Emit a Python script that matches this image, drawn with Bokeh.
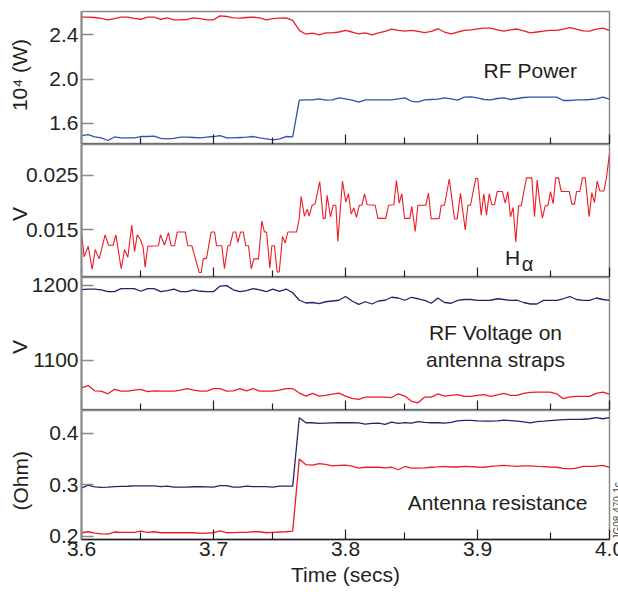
import numpy as np
from math import pi
from bokeh.plotting import figure
from bokeh.layouts import column
from bokeh.models import Label, FixedTicker, Range1d, PrintfTickFormatter, LinearAxis
from bokeh.embed import file_html
from bokeh.resources import INLINE

# ---------------- data ----------------
t_smooth = np.linspace(3.6, 4.0, 81)

power_red = [
    2.559, 2.559, 2.556, 2.548, 2.535, 2.545, 2.559, 2.559, 2.548, 2.540,
    2.559, 2.559, 2.540, 2.553, 2.535, 2.535, 2.538, 2.553, 2.545, 2.535,
    2.535, 2.570, 2.565, 2.553, 2.550, 2.556, 2.559, 2.553, 2.535, 2.545,
    2.550, 2.553, 2.530, 2.440, 2.405, 2.415, 2.400, 2.418, 2.418, 2.425,
    2.439, 2.425, 2.409, 2.418, 2.400, 2.418, 2.430, 2.450, 2.440, 2.433,
    2.439, 2.430, 2.420, 2.430, 2.454, 2.425, 2.409, 2.425, 2.439, 2.445,
    2.454, 2.460, 2.460, 2.445, 2.433, 2.445, 2.452, 2.435, 2.418, 2.425,
    2.433, 2.439, 2.439, 2.450, 2.465, 2.450, 2.436, 2.433, 2.450, 2.460,
    2.439]
power_blue = [
    1.491, 1.500, 1.478, 1.470, 1.446, 1.478, 1.470, 1.470, 1.470, 1.482,
    1.482, 1.485, 1.466, 1.461, 1.466, 1.476, 1.476, 1.473, 1.470, 1.476,
    1.482, 1.491, 1.470, 1.470, 1.473, 1.476, 1.482, 1.470, 1.461, 1.452,
    1.461, 1.482, 1.478, 1.810, 1.813, 1.813, 1.822, 1.810, 1.813, 1.831,
    1.822, 1.810, 1.792, 1.813, 1.813, 1.813, 1.813, 1.813, 1.822, 1.831,
    1.800, 1.795, 1.813, 1.816, 1.819, 1.831, 1.822, 1.810, 1.837, 1.840,
    1.831, 1.816, 1.813, 1.825, 1.831, 1.816, 1.825, 1.834, 1.837, 1.837,
    1.837, 1.837, 1.837, 1.807, 1.807, 1.813, 1.813, 1.816, 1.822, 1.837,
    1.819]

ha_t = [
    3.6000, 3.6020, 3.6051, 3.6081, 3.6104, 3.6134, 3.6179, 3.6205, 3.6240, 3.6260,
    3.6301, 3.6326, 3.6351, 3.6381, 3.6402, 3.6422, 3.6447, 3.6467, 3.6482, 3.6502,
    3.6583, 3.6598, 3.6629, 3.6659, 3.6679, 3.6705, 3.6725, 3.6786, 3.6805, 3.6836,
    3.6892, 3.6907, 3.6922, 3.6947, 3.6982, 3.7008, 3.7023, 3.7063, 3.7083, 3.7108,
    3.7124, 3.7149, 3.7169, 3.7184, 3.7205, 3.7225, 3.7245, 3.7265, 3.7286, 3.7306,
    3.7341, 3.7366, 3.7386, 3.7402, 3.7427, 3.7442, 3.7462, 3.7482, 3.7498, 3.7523,
    3.7543, 3.7563, 3.7629, 3.7649, 3.7664, 3.7689, 3.7710, 3.7725, 3.7745, 3.7770,
    3.7805, 3.7831, 3.7846, 3.7861, 3.7886, 3.7907, 3.7927, 3.7942, 3.7977, 3.8002,
    3.8023, 3.8043, 3.8063, 3.8083, 3.8104, 3.8124, 3.8144, 3.8164, 3.8225, 3.8245,
    3.8305, 3.8326, 3.8366, 3.8386, 3.8407, 3.8427, 3.8447, 3.8487, 3.8502, 3.8528,
    3.8548, 3.8608, 3.8629, 3.8649, 3.8710, 3.8725, 3.8750, 3.8786, 3.8826, 3.8846,
    3.8871, 3.8907, 3.8927, 3.8947, 3.8987, 3.9002,
    3.9028, 3.9048, 3.9068, 3.9089, 3.9109, 3.9129, 3.9149, 3.9189, 3.9210, 3.9230,
    3.9250, 3.9270, 3.9290, 3.9311, 3.9331, 3.9371, 3.9411, 3.9432, 3.9452, 3.9472,
    3.9492, 3.9513, 3.9533, 3.9553, 3.9573, 3.9593, 3.9614, 3.9634, 3.9695, 3.9715,
    3.9735, 3.9750, 3.9775, 3.9795, 3.9816, 3.9846, 3.9866, 3.9886, 3.9907, 3.9927,
    3.9957, 3.9977, 4.0000]
ha_v = [
    0.0146, 0.0101, 0.0120, 0.0078, 0.0114, 0.0097, 0.0141, 0.0122, 0.0122, 0.0141,
    0.0079, 0.0114, 0.0100, 0.0159, 0.0110, 0.0141, 0.0132, 0.0118, 0.0082, 0.0120,
    0.0121, 0.0141, 0.0122, 0.0145, 0.0121, 0.0121, 0.0146, 0.0146, 0.0121, 0.0121,
    0.0072, 0.0072, 0.0097, 0.0098, 0.0146, 0.0146, 0.0121, 0.0121, 0.0079, 0.0121,
    0.0121, 0.0146, 0.0146, 0.0127, 0.0146, 0.0146, 0.0121, 0.0121, 0.0079, 0.0097,
    0.0097, 0.0166, 0.0146, 0.0146, 0.0080, 0.0121, 0.0121, 0.0073, 0.0073, 0.0138,
    0.0126, 0.0146, 0.0146, 0.0170, 0.0211, 0.0175, 0.0188, 0.0175, 0.0194, 0.0198,
    0.0238, 0.0171, 0.0171, 0.0213, 0.0174, 0.0195, 0.0195, 0.0129, 0.0239, 0.0201,
    0.0216, 0.0179, 0.0190, 0.0173, 0.0195, 0.0195, 0.0216, 0.0196, 0.0195, 0.0171,
    0.0171, 0.0195, 0.0196, 0.0240, 0.0199, 0.0216, 0.0171, 0.0171, 0.0193, 0.0147,
    0.0195, 0.0195, 0.0217, 0.0170, 0.0171, 0.0195, 0.0195, 0.0243, 0.0170, 0.0170,
    0.0217, 0.0150, 0.0195, 0.0195, 0.0244, 0.0244,
    0.0177, 0.0216, 0.0177, 0.0216, 0.0196, 0.0196, 0.0220, 0.0220, 0.0199, 0.0220,
    0.0174, 0.0191, 0.0128, 0.0194, 0.0194, 0.0245, 0.0245, 0.0174, 0.0241, 0.0200,
    0.0172, 0.0194, 0.0194, 0.0220, 0.0198, 0.0245, 0.0245, 0.0220, 0.0220, 0.0197,
    0.0197, 0.0220, 0.0220, 0.0245, 0.0245, 0.0174, 0.0218, 0.0200, 0.0239, 0.0221,
    0.0221, 0.0245, 0.0290]

volt_blue = [
    1194.2, 1195, 1195, 1194, 1191.5, 1191.5, 1195.6, 1195.6, 1195.6, 1192,
    1195.6, 1195.6, 1191.5, 1193, 1195, 1191.5, 1191.5, 1194, 1192, 1191.5,
    1191.5, 1199, 1199.6, 1194, 1191.5, 1193, 1195.6, 1194, 1191.5, 1195,
    1192, 1195, 1190, 1180, 1176.3, 1177, 1175.5, 1178, 1179, 1180,
    1185, 1179, 1174.5, 1178, 1175, 1179, 1180, 1184, 1183, 1180,
    1184, 1182, 1179.8, 1176, 1183, 1177, 1176, 1179.8, 1181, 1181,
    1179.8, 1179.8, 1180, 1182, 1181, 1179.8, 1180, 1177, 1175, 1175,
    1179.8, 1179.8, 1179.8, 1182, 1185, 1181, 1179.8, 1179.8, 1183, 1181,
    1179.8]
volt_red = [
    1063, 1066, 1059, 1058.7, 1055, 1061, 1058.7, 1058.7, 1060, 1061,
    1058, 1059, 1058.7, 1058.7, 1058.7, 1060, 1062, 1060, 1058.7, 1058.7,
    1062, 1062, 1058.7, 1059, 1062, 1059, 1062, 1058.7, 1058.7, 1058.7,
    1060, 1062, 1062, 1056, 1052, 1055.5, 1052, 1053, 1054.5, 1056,
    1052, 1049, 1047.5, 1050.6, 1050.6, 1050.6, 1050.6, 1050, 1055, 1052,
    1045, 1043, 1050.6, 1050.6, 1055, 1052, 1053, 1054, 1051.5, 1051.5,
    1053, 1054, 1051.5, 1053.5, 1055.5, 1053, 1053, 1055.5, 1057, 1057.3,
    1057.3, 1057.3, 1055, 1048.5, 1051, 1051.5, 1051.5, 1051.5, 1055.5, 1057.3,
    1054.5]

res_blue = [
    0.2936, 0.2995, 0.2960, 0.2950, 0.2955, 0.2965, 0.2970, 0.2972, 0.2978, 0.2978,
    0.2978, 0.2978, 0.2965, 0.2975, 0.2955, 0.2955, 0.2955, 0.2962, 0.2962, 0.2960,
    0.2955, 0.2985, 0.2985, 0.2955, 0.2955, 0.2975, 0.2965, 0.2965, 0.2965, 0.2955,
    0.2975, 0.2975, 0.2975, 0.4300, 0.4203, 0.4203, 0.4190, 0.4195, 0.4200, 0.4203,
    0.4203, 0.4203, 0.4200, 0.4175, 0.4190, 0.4195, 0.4170, 0.4216, 0.4190, 0.4205,
    0.4195, 0.4225, 0.4210, 0.4203, 0.4203, 0.4195, 0.4210, 0.4240, 0.4250, 0.4250,
    0.4240, 0.4234, 0.4234, 0.4240, 0.4254, 0.4245, 0.4236, 0.4220, 0.4200, 0.4225,
    0.4234, 0.4245, 0.4254, 0.4262, 0.4267, 0.4267, 0.4270, 0.4280, 0.4300, 0.4280,
    0.4300]
res_red = [
    0.2071, 0.2090, 0.2065, 0.2050, 0.2045, 0.2085, 0.2078, 0.2078, 0.2078, 0.2103,
    0.2078, 0.2090, 0.2071, 0.2071, 0.2071, 0.2071, 0.2071, 0.2071, 0.2058, 0.2065,
    0.2071, 0.2109, 0.2071, 0.2075, 0.2078, 0.2080, 0.2090, 0.2090, 0.2071, 0.2078,
    0.2085, 0.2090, 0.2103, 0.3500, 0.3390, 0.3380, 0.3410, 0.3395, 0.3365, 0.3375,
    0.3380, 0.3360, 0.3325, 0.3340, 0.3340, 0.3340, 0.3330, 0.3340, 0.3292, 0.3355,
    0.3325, 0.3325, 0.3330, 0.3340, 0.3348, 0.3357, 0.3345, 0.3345, 0.3357, 0.3352,
    0.3345, 0.3340, 0.3357, 0.3365, 0.3375, 0.3365, 0.3357, 0.3365, 0.3365, 0.3357,
    0.3352, 0.3345, 0.3340, 0.3320, 0.3310, 0.3325, 0.3357, 0.3357, 0.3360, 0.3375,
    0.3340]

x_ticks = [3.6, 3.7, 3.8, 3.9, 4.0]
x_minor = [3.645, 3.745, 3.845, 3.955]
power_ticks = [1.6, 2.0, 2.4]
ha_ticks = [0.015, 0.025]
volt_ticks = [1100, 1200]
res_ticks = [0.2, 0.3, 0.4]

# ---------------- style ----------------
RED = "#ed1c24"
BLUE1 = "#3450a8"
NAVY = "#24246e"
GRAY = "#8a8a8a"
TXT = "#231f20"
FONT = "Liberation Sans"
FS = "21px"
NB = "\u00a0"

xr = Range1d(3.6, 4.0)


def make_panel(y0, y1, yticks, yfmt, ylabel, ylab_standoff, frame_h, top, bottom, last=False):
    p = figure(frame_width=528, frame_height=frame_h, x_range=xr,
               y_range=Range1d(y0, y1), output_backend="svg",
               toolbar_location=None, title=None,
               min_border=0, min_border_left=81, min_border_right=9,
               min_border_top=top, min_border_bottom=bottom,
               background_fill_color="white", border_fill_color="white")
    p.xgrid.visible = False
    p.ygrid.visible = False
    p.outline_line_color = GRAY
    p.outline_line_width = 1.5

    xa = p.xaxis[0]
    xa.ticker = FixedTicker(ticks=x_ticks, minor_ticks=x_minor)
    xa.formatter = PrintfTickFormatter(format="%.1f")
    xa.axis_line_color = TXT
    xa.axis_line_width = 1.5
    xa.major_tick_in = 10
    xa.major_tick_out = 0
    xa.minor_tick_in = 7
    xa.minor_tick_out = 0
    xa.major_tick_line_color = TXT
    xa.minor_tick_line_color = TXT
    xa.major_tick_line_width = 1.2
    xa.minor_tick_line_width = 1.2
    if last:
        xa.major_label_text_font = FONT
        xa.major_label_text_font_size = FS
        xa.major_label_text_color = TXT
        xa.major_label_standoff = 2
        xa.axis_label = "Time (secs)"
        xa.axis_label_text_font = FONT
        xa.axis_label_text_font_size = FS
        xa.axis_label_text_font_style = "normal"
        xa.axis_label_text_color = TXT
        xa.axis_label_standoff = 4
    else:
        xa.major_label_text_font_size = "0px"
        xa.major_label_text_color = None
        xa.major_label_standoff = 0

    ya = p.yaxis[0]
    ya.ticker = FixedTicker(ticks=yticks, minor_ticks=[])
    ya.formatter = PrintfTickFormatter(format=yfmt)
    ya.axis_line_color = GRAY
    ya.axis_line_width = 2
    ya.major_tick_in = 12
    ya.major_tick_out = 0
    ya.minor_tick_in = 0
    ya.minor_tick_out = 0
    ya.major_tick_line_color = GRAY
    ya.major_tick_line_width = 1.5
    ya.major_label_text_font = FONT
    ya.major_label_text_font_size = FS
    ya.major_label_text_color = TXT
    ya.major_label_standoff = 3
    ya.axis_label = ylabel
    ya.axis_label_text_font = FONT
    ya.axis_label_text_font_size = FS
    ya.axis_label_text_font_style = "normal"
    ya.axis_label_text_color = TXT
    ya.axis_label_standoff = ylab_standoff
    return p


def note(p, x, y, text, size=FS, align="center"):
    p.add_layout(Label(x=x, y=y, text=text, text_align=align, text_baseline="middle",
                       text_font=FONT, text_font_size=size, text_color=TXT))


# Panel 1: RF power
p1 = make_panel(1.41, 2.61, power_ticks, "%.1f", NB + NB + "10\u2074  (W)", 15, 133, 11, 0)
p1.line(t_smooth, power_red, color=RED, line_width=1.3)
p1.line(t_smooth, power_blue, color=BLUE1, line_width=1.3)
note(p1, 3.940, 2.078, "RF Power")

# Panel 2: H-alpha
p2 = make_panel(0.0063, 0.0306, ha_ticks, "%.3f", "V" + NB, -8, 133, 0, 0)
p2.line(ha_t, ha_v, color=RED, line_width=1.1)
note(p2, 3.9265, 0.0099, "H")
note(p2, 3.9335, 0.0088, "\u03b1", size="20px", align="left")

# Panel 3: RF voltage
p3 = make_panel(1032.7, 1210.4, volt_ticks, "%d", "V" + NB, -2, 133, 0, 0)
p3.line(t_smooth, volt_blue, color=NAVY, line_width=1.3)
p3.line(t_smooth, volt_red, color=RED, line_width=1.3)
note(p3, 3.9136, 1136.3, "RF Voltage on")
note(p3, 3.9136, 1101.3, "antenna straps")

# Panel 4: antenna resistance
p4 = make_panel(0.194, 0.444, res_ticks, "%.1f", "(Ohm)" + NB + NB, 14, 129, 0, 55, last=True)
p4.line(t_smooth, res_blue, color=NAVY, line_width=1.3)
p4.line(t_smooth, res_red, color=RED, line_width=1.3)
note(p4, 3.9152, 0.2649, "Antenna resistance")

# figure ID stamp on the right edge (partly cut off, as in the original)
stamp = LinearAxis(ticker=FixedTicker(ticks=[], minor_ticks=[]),
                   axis_line_color=None, major_tick_in=0, major_tick_out=0,
                   minor_tick_in=0, minor_tick_out=0,
                   axis_label="JG08.470-1c", axis_label_standoff=8,
                   axis_label_text_font=FONT, axis_label_text_font_size="10px",
                   axis_label_text_font_style="normal", axis_label_text_color="#444444",
                   axis_label_orientation=pi / 2, axis_label_align="start")
p4.add_layout(stamp, "right")

layout = column(p1, p2, p3, p4, spacing=0)

open("out.html", "w").write(file_html(layout, INLINE))
